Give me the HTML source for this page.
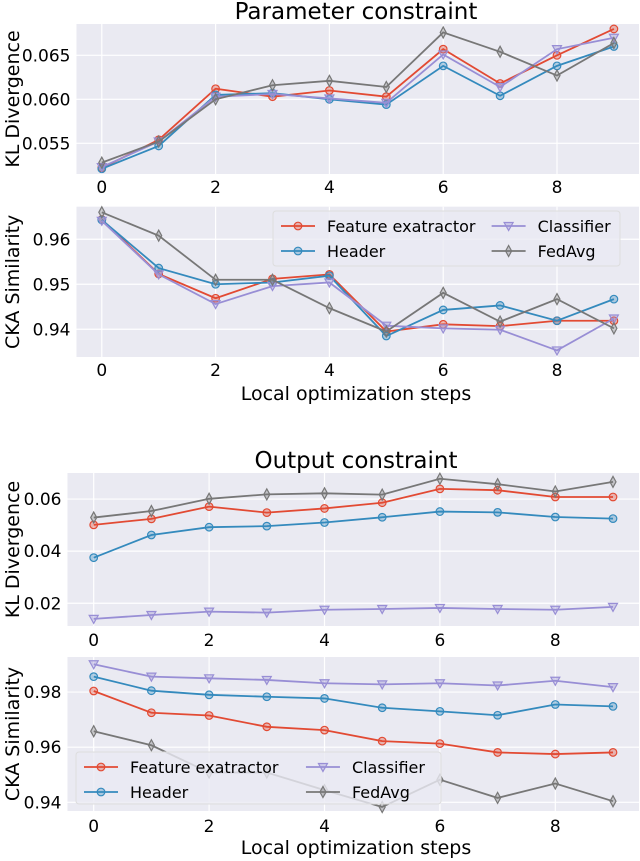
<!DOCTYPE html>
<html><head><meta charset="utf-8"><style>
body{margin:0;background:#fff;font-family:"DejaVu Sans","Liberation Sans",sans-serif}
svg{display:block}
</style></head><body>
<svg id="c" width="640" height="861" xmlns="http://www.w3.org/2000/svg"></svg>
<script>
const steps=[0,1,2,3,4,5,6,7,8,9];
const seriesNames=["Feature exatractor","Header","Classifier","FedAvg"];
const p1Feature=[0.0522,0.0554,0.0612,0.0603,0.0610,0.0603,0.0657,0.0618,0.0650,0.0680];
const p1Header=[0.0521,0.0547,0.0605,0.0607,0.0600,0.0594,0.0638,0.0604,0.0638,0.0660];
const p1Classifier=[0.0523,0.0552,0.0603,0.0606,0.0601,0.0596,0.0651,0.0614,0.0657,0.0670];
const p1FedAvg=[0.0528,0.0552,0.0600,0.0616,0.0621,0.0614,0.0676,0.0654,0.0627,0.0664];
const p2Feature=[0.9644,0.9523,0.9469,0.9512,0.9522,0.9395,0.9411,0.9407,0.9419,0.9419];
const p2Header=[0.9643,0.9536,0.9500,0.9504,0.9519,0.9385,0.9443,0.9453,0.9419,0.9467];
const p2Classifier=[0.9641,0.9522,0.9456,0.9496,0.9504,0.9408,0.9402,0.9399,0.9353,0.9424];
const p2FedAvg=[0.9660,0.9608,0.9510,0.9510,0.9447,0.9395,0.9481,0.9417,0.9467,0.9402];
const p3Feature=[0.0501,0.0524,0.0571,0.0548,0.0564,0.0586,0.0639,0.0634,0.0608,0.0608];
const p3Header=[0.0375,0.0462,0.0492,0.0496,0.0510,0.0530,0.0552,0.0549,0.0531,0.0525];
const p3Classifier=[0.0140,0.0155,0.0168,0.0164,0.0175,0.0178,0.0182,0.0178,0.0175,0.0186];
const p3FedAvg=[0.0529,0.0554,0.0601,0.0618,0.0622,0.0617,0.0678,0.0657,0.0629,0.0666];
const p4Feature=[0.9804,0.9725,0.9715,0.9674,0.9662,0.9622,0.9613,0.9581,0.9575,0.9581];
const p4Header=[0.9856,0.9805,0.9790,0.9783,0.9777,0.9743,0.9730,0.9716,0.9755,0.9748];
const p4Classifier=[0.9901,0.9856,0.9850,0.9844,0.9832,0.9828,0.9832,0.9824,0.9841,0.9818];
const p4FedAvg=[0.9658,0.9607,0.9508,0.9508,0.9444,0.9383,0.9482,0.9416,0.9468,0.9404];
const xTicks=[0,2,4,6,8];
const p1Ticks=[0.055,0.060,0.065];
const p2Ticks=[0.94,0.95,0.96];
const p3Ticks=[0.02,0.04,0.06];
const p4Ticks=[0.94,0.96,0.98];

const colors=["#E24A33","#348ABD","#988ED5","#777777"];
const markers=["o","o","v","d"];
const NS="http://www.w3.org/2000/svg";
const svg=document.getElementById("c");
function mk(tag,attrs,parent){const e=document.createElementNS(NS,tag);for(const k in attrs)e.setAttribute(k,attrs[k]);(parent||svg).appendChild(e);return e;}

const panels=[
 {id:"p1",L:76.5,R:639,T:24,B:174,x0:101.8,xs:56.9,ymin:0.05151,ymax:0.06856,ticks:p1Ticks,fmt:3,ylab:"KL Divergence",data:[p1Feature,p1Header,p1Classifier,p1FedAvg],title:"Parameter constraint",tickY:193},
 {id:"p2",L:76.5,R:639,T:206.7,B:357,x0:101.8,xs:56.9,ymin:0.93384,ymax:0.96724,ticks:p2Ticks,fmt:2,ylab:"CKA Similarity",data:[p2Feature,p2Header,p2Classifier,p2FedAvg],xlab:"Local optimization steps",xlabY:400,tickY:376,legend:{x:273,y:211,w:347,h:55}},
 {id:"p3",L:67.5,R:639,T:473,B:626,x0:93.7,xs:57.7,ymin:0.01127,ymax:0.07,ticks:p3Ticks,fmt:2,ylab:"KL Divergence",data:[p3Feature,p3Header,p3Classifier,p3FedAvg],title:"Output constraint",tickY:646},
 {id:"p4",L:67.5,R:639,T:657,B:811,x0:93.7,xs:57.7,ymin:0.93684,ymax:0.99273,ticks:p4Ticks,fmt:2,ylab:"CKA Similarity",data:[p4Feature,p4Header,p4Classifier,p4FedAvg],xlab:"Local optimization steps",xlabY:854,tickY:832,legend:{x:76,y:752,w:365,h:52}}
];

function marker(g,type,x,y,col){
  let e;
  if(type==="o"){e=mk("circle",{cx:x,cy:y,r:3.8,fill:col,"fill-opacity":0.35,stroke:col,"stroke-width":1.2},g);}
  else if(type==="v"){e=mk("polygon",{points:`${x-4.5},${y-3.5} ${x+4.5},${y-3.5} ${x},${y+4.5}`,fill:col,"fill-opacity":0.35,stroke:col,"stroke-width":1.2},g);}
  else{e=mk("polygon",{points:`${x},${y-5.5} ${x+3},${y} ${x},${y+5.5} ${x-3},${y}`,fill:col,"fill-opacity":0.35,stroke:col,"stroke-width":1.2},g);}
  
  
}

panels.forEach(p=>{
  const g=mk("g",{});
  
  
  const X=v=>p.x0+v*p.xs;
  const Y=v=>p.B-(v-p.ymin)/(p.ymax-p.ymin)*(p.B-p.T);
  const bg=mk("rect",{x:p.L,y:p.T,width:p.R-p.L,height:p.B-p.T,fill:"#EAEAF2"},g);
  
  
  xTicks.forEach(t=>{
    mk("line",{x1:X(t),x2:X(t),y1:p.T,y2:p.B,stroke:"#fff","stroke-width":1.2},g);
    const tl=mk("text",{x:X(t),y:p.tickY,"text-anchor":"middle","font-size":17,fill:"#000"},g);
    tl.textContent=t;
    
    
  });
  p.ticks.forEach(t=>{
    mk("line",{x1:p.L,x2:p.R,y1:Y(t),y2:Y(t),stroke:"#fff","stroke-width":1.2},g);
    const tl=mk("text",{x:p.L-6,y:Y(t)+6,"text-anchor":"end","font-size":17,fill:"#000"},g);
    tl.textContent=t.toFixed(p.fmt);
    
    
  });
  const yl=mk("text",{x:0,y:0,transform:`translate(19,${(p.T+p.B)/2}) rotate(-90)`,"text-anchor":"middle","font-size":19,fill:"#000"},g);
  yl.textContent=p.ylab;
  
  
  if(p.title){
    const tt=mk("text",{x:356,y:p.T-5,"text-anchor":"middle","font-size":23,fill:"#000"},g);
    tt.textContent=p.title;
    
    
  }
  if(p.xlab){
    const xl=mk("text",{x:356,y:p.xlabY,"text-anchor":"middle","font-size":19,fill:"#000"},g);
    xl.textContent=p.xlab;
    
    
  }
  p.data.forEach((arr,i)=>{
    const pts=arr.map((v,k)=>X(steps[k])+","+Y(v)).join(" ");
    const ln=mk("polyline",{points:pts,fill:"none",stroke:colors[i],"stroke-width":1.8},g);
    
    
    arr.forEach((v,k)=>marker(g,markers[i],X(steps[k]),Y(v),colors[i]));
  });
  if(p.legend){
    const L=p.legend;
    const lg=mk("g",{},g);
    
    
    mk("rect",{x:L.x,y:L.y,width:L.w,height:L.h,rx:3,fill:"#EAEAF2","fill-opacity":0.8,stroke:"#ddd"},lg);
    const colX=[L.x+8,L.x+L.w*0.63];
    seriesNames.forEach((n,i)=>{
      const cx=colX[i<2?0:1] , cy=L.y+15+(i%2)*25;
      const e=mk("g",{},lg);
      
      
      mk("line",{x1:cx,x2:cx+34,y1:cy,y2:cy,stroke:colors[i],"stroke-width":1.8},e);
      marker(e,markers[i],cx+17,cy,colors[i]);
      const t=mk("text",{x:cx+46,y:cy+6,"font-size":16,fill:"#000"},e);
      t.textContent=n;
    });
  }
});
</script>
</body></html>
